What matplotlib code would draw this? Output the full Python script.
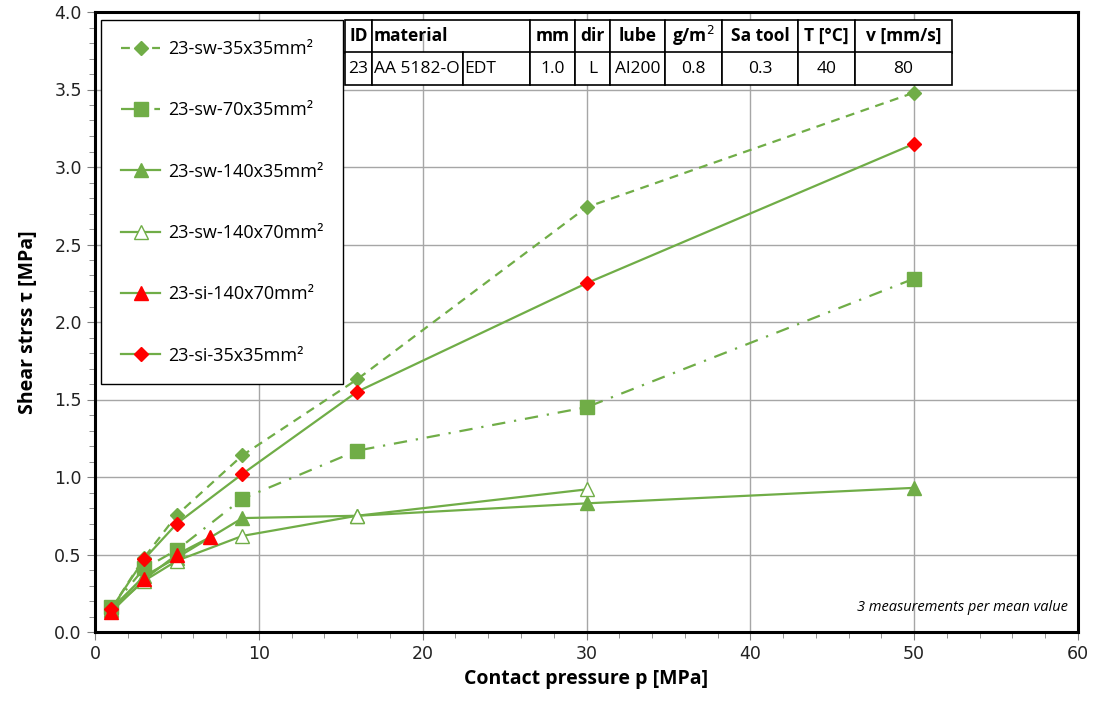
import matplotlib
matplotlib.use("Agg")
import matplotlib.pyplot as plt
from matplotlib.ticker import MultipleLocator

# ---- data ----
x_sw35 = [1, 3, 5, 9, 16, 30, 50]
y_sw35 = [0.15, 0.48, 0.755, 1.14, 1.63, 2.74, 3.48]

x_sw70 = [1, 3, 5, 9, 16, 30, 50]
y_sw70 = [0.16, 0.41, 0.53, 0.86, 1.17, 1.45, 2.28]

x_sw140x35 = [1, 3, 5, 9, 16, 30, 50]
y_sw140x35 = [0.15, 0.36, 0.48, 0.735, 0.75, 0.83, 0.93]

x_sw140x70 = [1, 3, 5, 9, 16, 30]
y_sw140x70 = [0.14, 0.33, 0.46, 0.62, 0.75, 0.92]

x_si140x70 = [1, 3, 5, 7]
y_si140x70 = [0.13, 0.34, 0.50, 0.61]

x_si35 = [1, 3, 5, 9, 16, 30, 50]
y_si35 = [0.15, 0.47, 0.70, 1.02, 1.55, 2.25, 3.15]

labels = ["23-sw-35x35mm²", "23-sw-70x35mm²", "23-sw-140x35mm²",
          "23-sw-140x70mm²", "23-si-140x70mm²", "23-si-35x35mm²"]

table_header = ["ID", "material", "", "mm", "dir", "lube", "g/m$^2$", "Sa tool", "T [°C]", "v [mm/s]"]
table_row = ["23", "AA 5182-O", "EDT", "1.0", "L", "Al200", "0.8", "0.3", "40", "80"]

green = "#70AD47"
red = "#FF0000"

fig = plt.figure(figsize=(10.93, 7.01), dpi=100)
ax = fig.add_axes([95/1093, 1-632/701, (1078-95)/1093, (632-12)/701])

lw = 1.6
ax.plot(x_sw35, y_sw35, color=green, lw=lw, ls=(0, (4, 3)), marker="D", ms=7,
        mfc=green, mec=green, label=labels[0], zorder=3)
ax.plot(x_sw70, y_sw70, color=green, lw=lw, ls=(0, (6, 4, 1, 4)), marker="s", ms=10,
        mfc=green, mec=green, label=labels[1], zorder=3)
ax.plot(x_sw140x35, y_sw140x35, color=green, lw=lw, ls="-", marker="^", ms=10,
        mfc=green, mec=green, label=labels[2], zorder=3)
ax.plot(x_sw140x70, y_sw140x70, color=green, lw=lw, ls="-", marker="^", ms=10,
        mfc="white", mec=green, label=labels[3], zorder=3)
ax.plot(x_si140x70, y_si140x70, color=green, lw=lw, ls="-", marker="^", ms=10,
        mfc=red, mec=red, label=labels[4], zorder=4)
ax.plot(x_si35, y_si35, color=green, lw=lw, ls="-", marker="D", ms=7,
        mfc=red, mec=red, label=labels[5], zorder=4)

ax.set_xlim(0, 60)
ax.set_ylim(0, 4.0)
ax.xaxis.set_major_locator(MultipleLocator(10))
ax.xaxis.set_minor_locator(MultipleLocator(2))
ax.yaxis.set_major_locator(MultipleLocator(0.5))
ax.yaxis.set_minor_locator(MultipleLocator(0.1))
ax.yaxis.set_major_formatter(matplotlib.ticker.FormatStrFormatter("%.1f"))
ax.grid(True, which="major", color="#A6A6A6", lw=1.0, zorder=0)
ax.tick_params(which="both", direction="out", colors="#808080", labelcolor="#222222",
               labelsize=12.5)
ax.tick_params(which="major", length=6)
ax.tick_params(which="minor", length=4)
for s in ax.spines.values():
    s.set_linewidth(2.2)
    s.set_color("black")

ax.set_xlabel("Contact pressure p [MPa]", fontsize=14, fontweight="bold",
              family="Open Sans", labelpad=4)
ax.set_ylabel("Shear strss τ [MPa]", fontsize=14, fontweight="bold",
              family="Open Sans", labelpad=12)

leg = ax.legend(loc="upper left", bbox_to_anchor=(0.006, 0.987), frameon=True,
                fancybox=False, edgecolor="black", framealpha=1,
                prop={"family": "Open Sans", "size": 13}, labelspacing=2.4,
                handlelength=2.2, borderpad=1.1, handletextpad=0.4,
                borderaxespad=0)
leg.get_frame().set_linewidth(1.0)

ax.text(0.99, 0.028, "3 measurements per mean value", transform=ax.transAxes,
        ha="right", va="bottom", fontsize=10.5, style="italic", family="Open Sans")

# ---- table ----
tax = fig.add_axes([345/1093, 1-85/701, (952-345)/1093, (85-20)/701])
tax.axis("off")
col_w = [27, 91, 67, 45, 35, 55, 57, 76, 57, 97]
tot = sum(col_w)
widths = [w/tot for w in col_w]
tbl = tax.table(cellText=[table_header, table_row], colWidths=widths,
                cellLoc="center", bbox=[0, 0, 1, 1])
tbl.auto_set_font_size(False)
for (r, c), cell in tbl.get_celld().items():
    cell.set_linewidth(1.2)
    cell.set_edgecolor("black")
    t = cell.get_text()
    t.set_family("Open Sans")
    t.set_fontsize(12.5)
    if r == 0:
        t.set_fontweight("bold")
        if c == 1:
            cell.visible_edges = "BTL"
            t.set_ha("left")
            cell.PAD = 0.02
        if c == 2:
            cell.visible_edges = "BTR"
    if r == 1 and c in (1, 2):
        t.set_ha("left")
        cell.PAD = 0.02

fig.savefig("out.png", dpi=100)
